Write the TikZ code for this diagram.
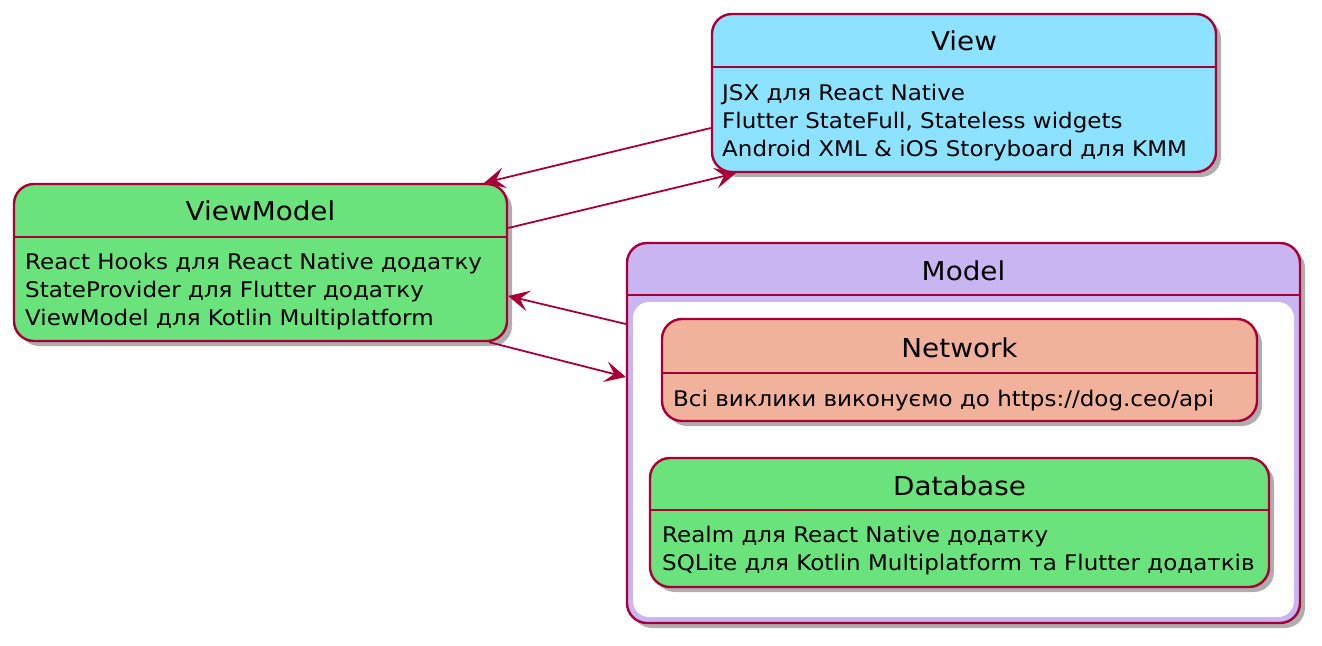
\documentclass[tikz,border=0pt]{standalone}
\usepackage{fontspec}
\setmainfont{DejaVu Sans}[FakeStretch=1.07]
\usetikzlibrary{arrows.meta,shadows,calc}

\definecolor{umlred}{HTML}{A80036}
\definecolor{viewblue}{HTML}{8DE3FF}
\definecolor{vmgreen}{HTML}{6BE37D}
\definecolor{modelviolet}{HTML}{C8B5F2}
\definecolor{netsalmon}{HTML}{F1B29B}

\begin{document}
\begin{tikzpicture} [
                x=1pt, y=-1pt,
                state/.style={draw=umlred,line width=2.4pt,rounded corners=20pt,inner sep=0pt,
                    drop shadow={shadow xshift=5pt,shadow yshift=-5pt,opacity=0.45,fill=black!70}},
                sep/.style = {draw=umlred,line width=2.4pt},
                title/.style={anchor=base,inner sep=0pt,font=\fontsize{26}{30}\selectfont},
                body/.style={anchor=base west,inner sep=0pt,align=left,font=\fontsize{21.5}{27.6}\selectfont},
                link/.style = {draw=umlred,line width=1.8pt,-{Stealth[length=21pt,width=21pt,inset=9pt]}},
            ]
            \useasboundingbox (0,0) rectangle (1322,645);
            % boxes
            \node[state,fill=viewblue,minimum width=504pt,minimum height=158pt] (view) at (964,93) {};
            \node[state,fill=vmgreen,minimum width=493pt,minimum height=157pt] (vm) at (260.5,262.5) {};
            \node[state,fill=modelviolet,minimum width=673pt,minimum height=380pt] (model) at (963.5,433) {};
            \node[fill=white,rounded corners=16pt,inner sep=0pt,minimum width=661pt,minimum height=315pt] (model-in) at (963.5,459.5) {};
            \node[state,fill=netsalmon,minimum width=595pt,minimum height=102pt] (net) at (959.5,370) {};
            \node[state,fill=vmgreen,minimum width=619pt,minimum height=129pt] (db) at (959.5,522.5) {};
            % header lines
            \foreach \name/\y in {
                    view/67, vm/237, model/295, net/373, db/510}
                \path[sep] (\name.west |- 0,\y) -- (\name.east |- 0,\y);
            % titles
            \foreach \name/\y/\title in {
                    view/50/View, vm/220/ViewModel, model/280/Model, net/357/Network, db/495/Database}
                \node[title] (\name-t) at (\name.north |- 0,\y) {\title};
            % bodies (anchored at the baseline of the last line)
            \node[body] (view-b) at (722,156) {JSX для React Native\\Flutter StateFull, Stateless widgets\\Android XML \& iOS Storyboard для KMM};
            \node[body] (vm-b) at (25,325) {React Hooks для React Native додатку\\StateProvider для Flutter додатку\\ViewModel для Kotlin Multiplatform};
            \node[body] (net-b) at (673,406) {Всі виклики виконуємо до https://dog.ceo/api};
            \node[body] (db-b) at (662,570) {Realm для React Native додатку\\SQLite для Kotlin Multiplatform та Flutter додатків};
            % connectors
            \path[link] ($(view.west)+(0,35)$) -- ($(vm.north east)+(-24,0)$);
            \path[link] ($(vm.east)+(0,-34.5)$) -- ($(view.south west)+(25,0)$);
            \path[link] ($(model.west)+(0,-109)$) -- ($(vm.east)+(0,33.5)$);
            \path[link] ($(vm.south east)+(-19,0)$) -- ($(model.west)+(0,-56)$);
        \end{tikzpicture}
\end{document}
